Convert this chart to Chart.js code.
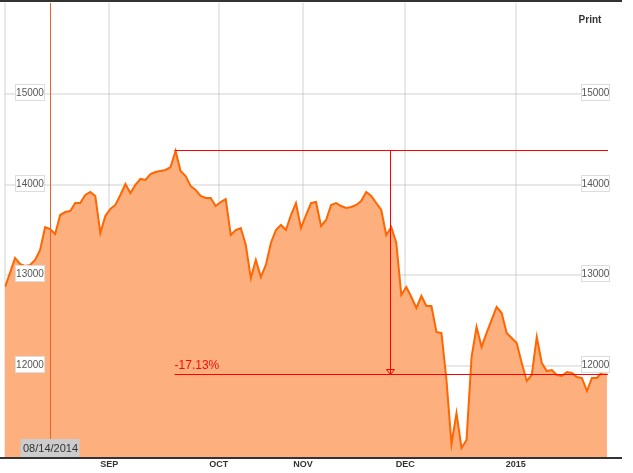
<!DOCTYPE html>
<html>
<head>
<meta charset="utf-8">
<script src="https://cdn.jsdelivr.net/npm/chart.js@4"></script>
<style>
  html, body { margin: 0; padding: 0; background: #fff; }
</style>
</head>
<body>
<canvas id="c" width="633" height="473"></canvas>
<script>
// daily closes (Aug 2014 - Jan 2015)
const closes = [
  12872, 13027, 13192, 13126, 13104, 13115, 13170, 13280, 13533, 13511,
  13456, 13665, 13698, 13709, 13797, 13797, 13886, 13919, 13875, 13467,
  13654, 13731, 13776, 13886, 14007, 13908, 13996, 14062, 14051, 14117,
  14139, 14150, 14161, 14194, 14370, 14150, 14095, 13985, 13941, 13875,
  13852, 13852, 13764, 13808, 13841, 13445, 13500, 13522, 13335, 12971,
  13170, 12982, 13115, 13357, 13500, 13555, 13500, 13665, 13797, 13522,
  13665, 13797, 13808, 13544, 13610, 13776, 13797, 13764, 13742, 13753,
  13776, 13819, 13919, 13875, 13797, 13720, 13445, 13533, 13357, 12784,
  12872, 12762, 12641, 12773, 12663, 12663, 12377, 12366, 11848, 11143,
  11484, 11099, 11187, 12101, 12432, 12212, 12366, 12509, 12652, 12586,
  12366, 12311, 12256, 12035, 11837, 11903, 12322, 12035, 11947, 11958,
  11903, 11892, 11936, 11925, 11881, 11870, 11727, 11870, 11870, 11936,
  11936
]
const monthPos = [20.8, 42.6, 59.4, 79.8, 101.8]
const monthLabels = ['SEP', 'OCT', 'NOV', 'DEC', '2015']
const priceTicks = [12000, 13000, 14000, 15000]
const markerIdx = 9
const markerText = '08/14/2014'
const arrowIdx = 77
const changePct = -17.13

const peakVal = Math.max(...closes)
const peakIdx = closes.indexOf(peakVal)
const lowVal = peakVal * (1 + changePct / 100)

const FONT = '"Liberation Sans", Arial, sans-serif'

const overlay = {
  id: 'overlay',
  afterDraw(chart) {
    const { ctx, chartArea: a, scales: { x, y } } = chart
    const seg = (x1, y1, x2, y2, col) => {
      ctx.strokeStyle = col
      ctx.beginPath(); ctx.moveTo(x1, y1); ctx.lineTo(x2, y2); ctx.stroke()
    }
    ctx.save()

    // frame lines
    ctx.lineWidth = 2
    seg(0, 1, 622, 1, '#333')
    seg(0, a.bottom + 1, 622, a.bottom + 1, '#333')

    // date marker
    const mx = Math.round(x.getPixelForValue(markerIdx)) + 0.5
    ctx.lineWidth = 1
    seg(mx, a.top, mx, a.bottom, '#e8602c')
    ctx.fillStyle = '#cccccc'
    ctx.fillRect(mx - 30, a.bottom - 18, 59, 18)
    ctx.fillStyle = '#333'
    ctx.font = '11px ' + FONT
    ctx.textAlign = 'center'
    ctx.textBaseline = 'middle'
    ctx.fillText(markerText, mx, a.bottom - 8.5)

    // peak / drop annotation
    const px = x.getPixelForValue(peakIdx) - 1
    const py = Math.round(y.getPixelForValue(peakVal)) - 0.5
    const ly = Math.round(y.getPixelForValue(lowVal)) - 0.5
    const ax = Math.round(x.getPixelForValue(arrowIdx)) - 0.5
    const red = 'rgb(255,0,0)'
    seg(px, py, a.right + 1, py, red)
    seg(px, ly, a.right + 1, ly, red)
    seg(ax, py, ax, ly, red)
    ctx.strokeStyle = red
    ctx.beginPath()
    ctx.moveTo(ax - 4, ly - 5)
    ctx.lineTo(ax + 4, ly - 5)
    ctx.lineTo(ax, ly)
    ctx.closePath()
    ctx.stroke()
    ctx.fillStyle = '#ee1111'
    ctx.font = '12px ' + FONT
    ctx.textAlign = 'left'
    ctx.textBaseline = 'alphabetic'
    ctx.fillText(changePct.toFixed(2) + '%', px, ly - 6)

    // price labels on both sides
    ctx.font = '10px ' + FONT
    ctx.textAlign = 'center'
    ctx.textBaseline = 'middle'
    priceTicks.forEach(v => {
      const yy = Math.round(y.getPixelForValue(v))
      ;[[15.5, 29], [581.5, 28]].forEach(([bx, bw]) => {
        ctx.fillStyle = '#fff'
        ctx.fillRect(bx, yy - 9.5, bw, 16)
        ctx.strokeStyle = '#dddddd'
        ctx.strokeRect(bx, yy - 9.5, bw, 16)
        ctx.fillStyle = '#555'
        ctx.fillText(String(v), bx + bw / 2, yy - 1)
      })
    })

    // month labels
    ctx.fillStyle = '#333'
    ctx.font = 'bold 9px ' + FONT
    monthPos.forEach((p, i) => {
      ctx.fillText(monthLabels[i], x.getPixelForValue(p), a.bottom + 8)
    })

    ctx.font = 'bold 10px ' + FONT
    ctx.fillText('Print', 590, 20)
    ctx.restore()
  }
}

new Chart(document.getElementById('c').getContext('2d'), {
  type: 'line',
  data: {
    datasets: [{
      data: closes.map((v, i) => ({ x: i, y: v })),
      borderColor: '#ff6600',
      backgroundColor: '#fdaf7e',
      borderWidth: 2,
      fill: 'start',
      pointRadius: 0,
      tension: 0
    }]
  },
  options: {
    responsive: false,
    animation: false,
    devicePixelRatio: 1,
    layout: { padding: { left: 5, right: 26, top: 3, bottom: 16 } },
    plugins: { legend: { display: false }, tooltip: { enabled: false } },
    scales: {
      x: {
        type: 'linear',
        min: 0,
        max: closes.length - 1,
        z: 1,
        afterFit: s => { s.height = 0 },
        afterBuildTicks: s => { s.ticks = [0, ...monthPos].map(v => ({ value: v })) },
        ticks: { display: false },
        grid: { color: 'rgba(190,190,190,0.35)', lineWidth: 2, drawTicks: false },
        border: { display: false }
      },
      y: {
        min: 11000,
        max: 16000,
        z: 1,
        afterFit: s => { s.width = 0 },
        afterBuildTicks: s => { s.ticks = priceTicks.map(v => ({ value: v })) },
        ticks: { display: false },
        grid: { color: 'rgba(190,190,190,0.35)', lineWidth: 2, drawTicks: false },
        border: { display: false }
      }
    }
  },
  plugins: [overlay]
})
</script>
</body>
</html>
